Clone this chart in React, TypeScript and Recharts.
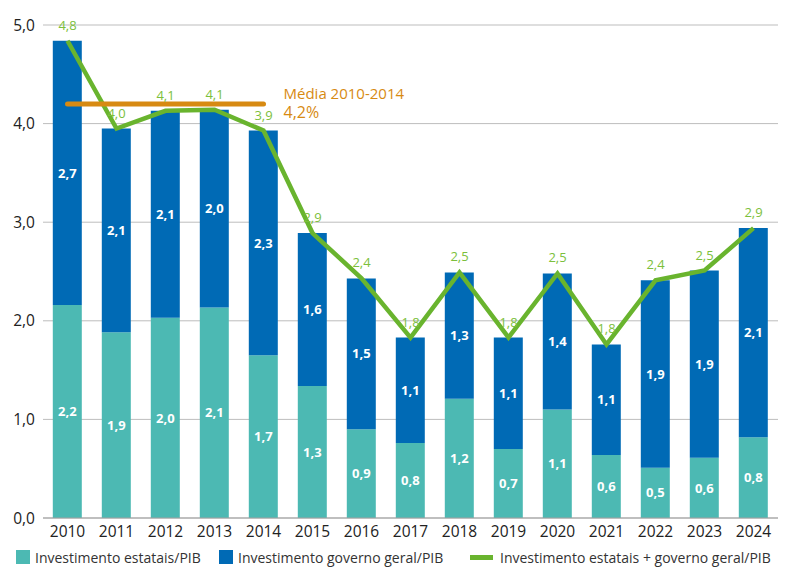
import React from 'react'
import {
  ComposedChart,
  Bar,
  Line,
  XAxis,
  YAxis,
  CartesianGrid,
  LabelList,
} from 'recharts'

const years = ['2010', '2011', '2012', '2013', '2014', '2015', '2016', '2017', '2018', '2019', '2020', '2021', '2022', '2023', '2024']
const estatais = [2.16, 1.885, 2.03, 2.135, 1.65, 1.34, 0.9, 0.76, 1.21, 0.7, 1.1, 0.64, 0.51, 0.61, 0.82]
const governo = [2.68, 2.065, 2.1, 2.005, 2.28, 1.55, 1.53, 1.07, 1.28, 1.13, 1.38, 1.12, 1.9, 1.9, 2.12]
const estataisLabels = ['2,2', '1,9', '2,0', '2,1', '1,7', '1,3', '0,9', '0,8', '1,2', '0,7', '1,1', '0,6', '0,5', '0,6', '0,8']
const governoLabels = ['2,7', '2,1', '2,1', '2,0', '2,3', '1,6', '1,5', '1,1', '1,3', '1,1', '1,4', '1,1', '1,9', '1,9', '2,1']
const totalLabels = ['4,8', '4,0', '4,1', '4,1', '3,9', '2,9', '2,4', '1,8', '2,5', '1,8', '2,5', '1,8', '2,4', '2,5', '2,9']
const media = [4.2, 4.2, 4.2, 4.2, 4.2, null, null, null, null, null, null, null, null, null, null]
const yTicks = [0, 1, 2, 3, 4, 5]

const TEAL = '#4cb9b3'
const BLUE = '#006ab5'
const GREEN = '#69b42e'
const ORANGE = '#d78a12'
const FONT = '"Open Sans", sans-serif'

const data = years.map((year, i) => ({
  year,
  estatais: estatais[i],
  governo: governo[i],
  total: +(estatais[i] + governo[i]).toFixed(3),
  media: media[i],
  estataisLabel: estataisLabels[i],
  governoLabel: governoLabels[i],
  totalLabel: totalLabels[i],
}))

// only the last point of the average line carries the text
const MediaLabel = (props: any) => {
  const { x, y, index } = props
  if (index !== 4) return null
  return (
    <g fontFamily={FONT} fill={ORANGE} fontWeight={500}>
      <text x={x + 20} y={y - 5} fontSize={15}>Média 2010-2014</text>
      <text x={x + 20} y={y + 14} fontSize={16}>4,2%</text>
    </g>
  )
}

const legendRow = { position: 'absolute' as const, top: 549, height: 16, display: 'flex', alignItems: 'center', fontSize: 14, color: '#333', whiteSpace: 'nowrap' as const }

const App = () => {
  return (
    <div style={{ position: 'absolute', left: 0, top: 0, width: 802, height: 577, background: '#fff', fontFamily: FONT }}>
      <ComposedChart
        width={802}
        height={577}
        data={data}
        margin={{ top: 25, right: 24, left: 0, bottom: 29 }}
        barCategoryGap="20%"
      >
        <CartesianGrid vertical={false} stroke="#bdbdbd" />
        <XAxis
          dataKey="year"
          height={30}
          tickLine={false}
          axisLine={{ stroke: '#a0a0a0' }}
          tick={{ fill: '#222', fontSize: 15.5, fontFamily: FONT }}
          tickMargin={2}
        />
        <YAxis
          width={43}
          domain={[0, 5]}
          ticks={yTicks}
          tickLine={false}
          axisLine={false}
          tickMargin={2}
          tick={{ fill: '#222', fontSize: 15.5, fontFamily: FONT }}
          tickFormatter={(v: number) => v.toFixed(1).replace('.', ',')}
        />
        <Bar dataKey="estatais" stackId="a" fill={TEAL} isAnimationActive={false}>
          <LabelList dataKey="estataisLabel" position="center" fill="#fff" fontSize={13} fontWeight={700} fontFamily={FONT} />
        </Bar>
        <Bar dataKey="governo" stackId="a" fill={BLUE} isAnimationActive={false}>
          <LabelList dataKey="governoLabel" position="center" fill="#fff" fontSize={13} fontWeight={700} fontFamily={FONT} />
        </Bar>
        <Line
          dataKey="total"
          stroke={GREEN}
          strokeWidth={4.5}
          dot={false}
          activeDot={false}
          isAnimationActive={false}
        >
          <LabelList dataKey="totalLabel" position="top" offset={11} fill="#7cbf3c" fontSize={13} fontFamily={FONT} />
        </Line>
        <Line
          dataKey="media"
          stroke={ORANGE}
          strokeWidth={5}
          strokeLinecap="round"
          dot={false}
          activeDot={false}
          isAnimationActive={false}
        >
          <LabelList dataKey="media" content={MediaLabel} />
        </Line>
      </ComposedChart>
      <div style={{ ...legendRow, left: 16 }}>
        <span style={{ width: 14, height: 14, background: TEAL, display: 'inline-block' }} />
        <span style={{ marginLeft: 5 }}>Investimento estatais/PIB</span>
      </div>
      <div style={{ ...legendRow, left: 219 }}>
        <span style={{ width: 14, height: 14, background: BLUE, display: 'inline-block' }} />
        <span style={{ marginLeft: 5 }}>Investimento governo geral/PIB</span>
      </div>
      <div style={{ ...legendRow, left: 470 }}>
        <span style={{ width: 23, height: 5, background: GREEN, display: 'inline-block' }} />
        <span style={{ marginLeft: 7 }}>Investimento estatais + governo geral/PIB</span>
      </div>
    </div>
  )
}

export default App
